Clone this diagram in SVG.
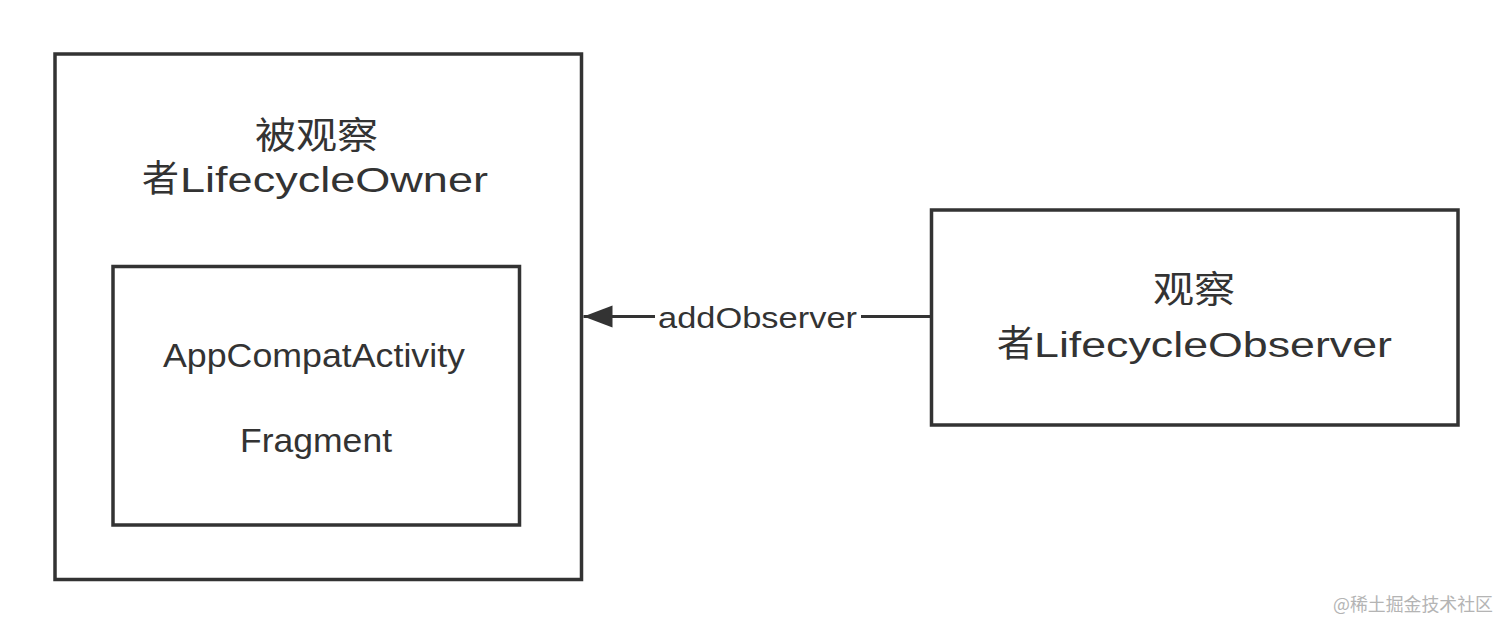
<svg xmlns="http://www.w3.org/2000/svg" width="1512" height="634" viewBox="0 0 1512 634">
<style>
.box{fill:#fff;stroke:#333;stroke-width:3.5}
.cjk{font-family:"Noto Sans CJK SC","Liberation Sans",sans-serif;fill:#333}
.lat{font-family:"Liberation Sans","Noto Sans CJK SC",sans-serif}
.wm{font-family:"Noto Sans CJK SC","Liberation Sans",sans-serif;fill:#b4b4b4;font-size:18px}
</style>
<defs>
<marker id="ah" markerUnits="userSpaceOnUse" markerWidth="32" markerHeight="26" refX="31" refY="12" orient="auto" viewBox="0 0 32 24">
<path d="M31,12 L2,1 L2,23 Z" fill="#333"/>
</marker>
</defs>
<rect width="1512" height="634" fill="#fff"/>
<g id="owner">
<rect class="box" x="55" y="54" width="526.5" height="525.5"/>
<text class="cjk" x="255" y="149" font-size="37" textLength="123" lengthAdjust="spacingAndGlyphs">被观察</text>
<text x="142" y="192" font-size="35"><tspan class="cjk" font-size="37">者</tspan><tspan class="lat" fill="#333" x="180" textLength="308" lengthAdjust="spacingAndGlyphs">LifecycleOwner</tspan></text>
</g>
<g id="activity">
<rect class="box" x="113" y="266.5" width="406.5" height="258.5"/>
<text class="lat" fill="#333" x="163" y="367" font-size="33" textLength="302" lengthAdjust="spacingAndGlyphs">AppCompatActivity</text>
<text class="lat" fill="#333" x="240" y="452" font-size="33" textLength="152" lengthAdjust="spacingAndGlyphs">Fragment</text>
</g>
<g id="observer">
<rect class="box" x="931.5" y="210" width="526.5" height="215"/>
<text class="cjk" x="1153" y="303" font-size="37" textLength="82" lengthAdjust="spacingAndGlyphs">观察</text>
<text x="997" y="357" font-size="35"><tspan class="cjk" font-size="37">者</tspan><tspan class="lat" fill="#333" x="1034" textLength="358" lengthAdjust="spacingAndGlyphs">LifecycleObserver</tspan></text>
</g>
<g id="connectors">
<line x1="930" y1="316.5" x2="583.5" y2="316.5" stroke="#333" stroke-width="3" marker-end="url(#ah)"/>
<rect x="655" y="300" width="206" height="34" fill="#fff"/>
<text class="lat" fill="#333" x="658" y="328" font-size="29" textLength="199" lengthAdjust="spacingAndGlyphs">addObserver</text>
</g>
<text class="wm" x="1333" y="611" textLength="160" lengthAdjust="spacingAndGlyphs">@稀土掘金技术社区</text>
</svg>
